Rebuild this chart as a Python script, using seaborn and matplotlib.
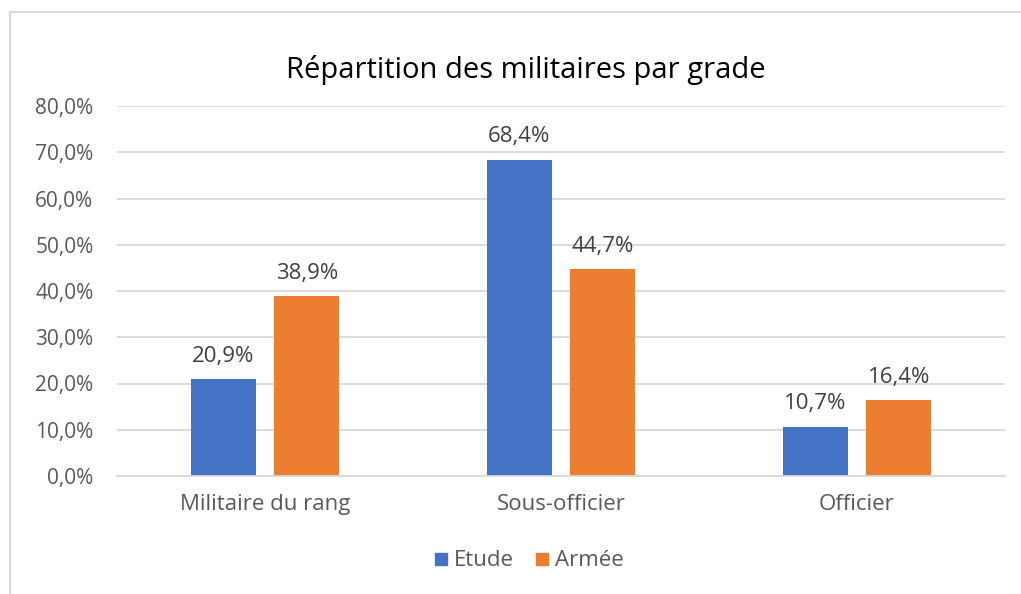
import pandas as pd
import matplotlib.pyplot as plt
import seaborn as sns
from matplotlib.lines import Line2D
from matplotlib.ticker import FuncFormatter

# Data
categories = ["Militaire du rang", "Sous-officier", "Officier"]
etude = [20.9, 68.4, 10.7]
armee = [38.9, 44.7, 16.4]
series_names = ["Etude", "Armée"]
colors = ["#4472C4", "#ED7D31"]

df = pd.DataFrame({
    "grade": categories * 2,
    "serie": [series_names[0]] * 3 + [series_names[1]] * 3,
    "valeur": etude + armee,
})

sns.set_theme(style="white")
plt.rcParams['font.family'] = ['Open Sans', 'DejaVu Sans']

fig = plt.figure(figsize=(10.21, 5.94), dpi=100)
ax = fig.add_axes([117 / 1021, 1 - 476 / 594, 888 / 1021, 370 / 594])

sns.barplot(data=df, x="grade", y="valeur", hue="serie", palette=colors,
            width=0.567, gap=0.226, saturation=1, linewidth=0, ax=ax, legend=False)

ax.set_ylim(0, 80)
ax.set_xlim(-0.5, 2.5)
ax.set_yticks(range(0, 81, 10))
ax.yaxis.set_major_formatter(FuncFormatter(lambda v, p: f"{v:.1f}%".replace(".", ",")))
ax.grid(axis="y", color="#D9D9D9", linewidth=1.3)
ax.set_axisbelow(True)
for s in ["top", "right", "left"]:
    ax.spines[s].set_visible(False)
ax.spines["bottom"].set_color("#D9D9D9")
ax.spines["bottom"].set_linewidth(1.3)
ax.tick_params(axis="y", length=0, labelsize=15, labelcolor="#595959", pad=17)
ax.tick_params(axis="x", length=0, labelsize=16, labelcolor="#595959", pad=13)
ax.set_xlabel("")
ax.set_ylabel("")

# data labels
for cont in ax.containers:
    ax.bar_label(cont, labels=[f"{v:.1f}%".replace(".", ",") for v in cont.datavalues],
                 padding=9, fontsize=16, color="#404040")

fig.text(0.515, 1 - 70 / 594, "Répartition des militaires par grade",
         ha="center", va="center", fontsize=21, color="#000000")

handles = [Line2D([], [], marker="s", linestyle="", markersize=9,
                  markerfacecolor=c, markeredgecolor=c) for c in colors]
fig.legend(handles, series_names, loc="center", bbox_to_anchor=(0.516, 1 - 561 / 594),
           ncol=2, frameon=False, fontsize=16, labelcolor="#595959",
           handletextpad=0.05, columnspacing=0.8, handlelength=1.0)

# chart border
border = plt.Rectangle((10 / 1021, -0.1), 1.2, 1 - 12 / 594 + 0.1, transform=fig.transFigure,
                       fill=False, edgecolor="#D9D9D9", linewidth=1.5)
fig.patches.append(border)

fig.savefig("out.png", dpi=100)
